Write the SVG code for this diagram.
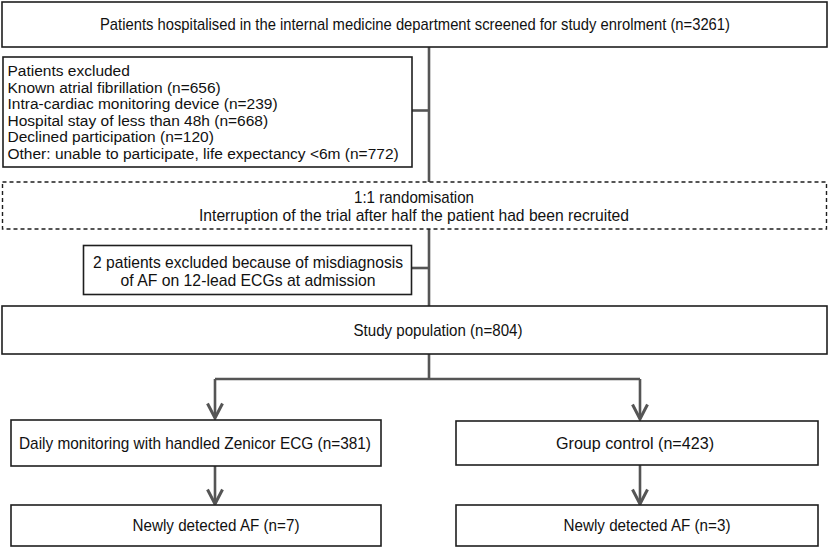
<svg xmlns="http://www.w3.org/2000/svg" width="829" height="554" viewBox="0 0 829 554">
<style>
.box{fill:#fff;stroke:#1e1e1e;stroke-width:1.6}
.dash{fill:#fff;stroke:#1e1e1e;stroke-width:1.4;stroke-dasharray:4 3}
.t{font-family:"Liberation Sans",Arial,sans-serif;font-size:17px;fill:#111;text-anchor:middle}
.e{font-family:"Liberation Sans",Arial,sans-serif;font-size:15.5px;fill:#111}
.c{fill:none;stroke:#555;stroke-width:2.6}
</style>
<defs>
<marker id="arr" viewBox="0 0 18 18" refX="16" refY="9" markerWidth="18" markerHeight="18" markerUnits="userSpaceOnUse" orient="auto">
<path d="M1.5,1.5 L16,9 L1.5,16.5" fill="none" stroke="#555" stroke-width="3"/>
</marker>
</defs>
<rect width="829" height="554" fill="#fff"/>
<g id="connectors">
<path class="c" d="M429 47 V182"/>
<path class="c" d="M412 110.5 H429"/>
<path class="c" d="M429 229 V306"/>
<path class="c" d="M411 268 H429"/>
<path class="c" d="M429 354 V379"/>
<path class="c" d="M215 379 H640"/>
<path class="c" d="M215 379 V418" marker-end="url(#arr)"/>
<path class="c" d="M640 379 V419" marker-end="url(#arr)"/>
<path class="c" d="M215 466 V504" marker-end="url(#arr)"/>
<path class="c" d="M640 465 V504" marker-end="url(#arr)"/>
</g>
<g id="screened">
<rect class="box" x="2" y="2" width="825" height="45"/>
<text class="t" x="415" y="30" textLength="630" lengthAdjust="spacingAndGlyphs">Patients hospitalised in the internal medicine department screened for study enrolment (n=3261)</text>
</g>
<g id="excluded">
<rect class="box" x="3" y="57" width="409" height="110"/>
<text class="e" x="7.5" y="76">Patients excluded</text>
<text class="e" x="7.5" y="92.6">Known atrial fibrillation (n=656)</text>
<text class="e" x="7.5" y="109.2">Intra-cardiac monitoring device (n=239)</text>
<text class="e" x="7.5" y="125.8">Hospital stay of less than 48h (n=668)</text>
<text class="e" x="7.5" y="142.4">Declined participation (n=120)</text>
<text class="e" x="7.5" y="159">Other: unable to participate, life expectancy &lt;6m (n=772)</text>
</g>
<g id="randomisation">
<rect class="dash" x="2.5" y="182" width="824" height="47"/>
<text class="t" x="414" y="203" textLength="120" lengthAdjust="spacingAndGlyphs">1:1 randomisation</text>
<text class="t" x="414" y="221" textLength="430" lengthAdjust="spacingAndGlyphs">Interruption of the trial after half the patient had been recruited</text>
</g>
<g id="excluded2">
<rect class="box" x="83.5" y="245.5" width="328" height="49"/>
<text class="t" x="248" y="268" textLength="310" lengthAdjust="spacingAndGlyphs">2 patients excluded  because of misdiagnosis</text>
<text class="t" x="248" y="286" textLength="255" lengthAdjust="spacingAndGlyphs">of AF on 12-lead ECGs at admission</text>
</g>
<g id="population">
<rect class="box" x="2" y="306" width="825" height="48"/>
<text class="t" x="438" y="336" textLength="169" lengthAdjust="spacingAndGlyphs">Study population (n=804)</text>
</g>
<g id="monitoring">
<rect class="box" x="11" y="420" width="370" height="46"/>
<text class="t" x="195" y="449" textLength="352" lengthAdjust="spacingAndGlyphs">Daily monitoring with handled Zenicor ECG (n=381)</text>
</g>
<g id="control">
<rect class="box" x="456" y="421" width="362" height="44"/>
<text class="t" x="635" y="449" textLength="158" lengthAdjust="spacingAndGlyphs">Group control (n=423)</text>
</g>
<g id="af7">
<rect class="box" x="11" y="505" width="370" height="41"/>
<text class="t" x="216" y="531" textLength="167" lengthAdjust="spacingAndGlyphs">Newly detected AF (n=7)</text>
</g>
<g id="af3">
<rect class="box" x="456" y="505" width="362" height="41"/>
<text class="t" x="647" y="531" textLength="167" lengthAdjust="spacingAndGlyphs">Newly detected AF (n=3)</text>
</g>
</svg>
